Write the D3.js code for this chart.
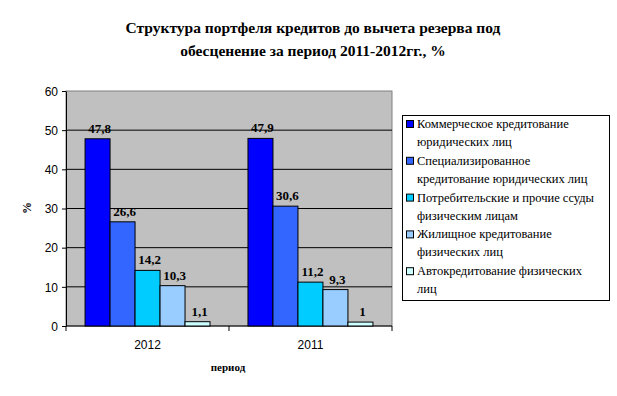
<!DOCTYPE html>
<html>
<head>
<meta charset="utf-8">
<script src="https://cdn.jsdelivr.net/npm/d3@7"></script>
<style>
  body { margin: 0; background: #fff; }
  svg { display: block; }
</style>
</head>
<body>
<svg id="chart" width="617" height="396"></svg>
<script>
// data
const periods = ["2012", "2011"];
const seriesNames = [
  ["Коммерческое кредитование", "юридических лиц"],
  ["Специализированное", "кредитование юридических лиц"],
  ["Потребительские и прочие ссуды", "физическим лицам"],
  ["Жилищное кредитование", "физических лиц"],
  ["Автокредитование физических", "лиц"]
];
const values2012 = [47.8, 26.6, 14.2, 10.3, 1.1];
const values2011 = [47.9, 30.6, 11.2, 9.3, 1];
const yTicks = [0, 10, 20, 30, 40, 50, 60];
const colors = ["#0000ff", "#3366ff", "#00ccff", "#99ccff", "#ccffff"];

const serif = "'Liberation Serif', 'Times New Roman', 'DejaVu Serif', serif";
const sans = "'Liberation Sans', Arial, sans-serif";

const svg = d3.select("#chart");
const m = { left: 66, right: 392, top: 91, bottom: 326 };

const x0 = d3.scaleBand().domain(periods).range([m.left, m.right]).paddingInner(0.233).paddingOuter(0.117);
const x1 = d3.scaleBand().domain(d3.range(5)).range([0, x0.bandwidth()]);
const y = d3.scaleLinear().domain([0, 60]).range([m.bottom, m.top]);

const byPeriod = { "2012": values2012, "2011": values2011 };

// plot area
svg.append("rect")
  .attr("x", m.left).attr("y", m.top)
  .attr("width", m.right - m.left).attr("height", m.bottom - m.top)
  .attr("fill", "#c0c0c0").attr("stroke", "#808080");

// gridlines
svg.append("g").selectAll("line")
  .data(yTicks.filter(d => d > 0 && d < 60))
  .enter().append("line")
    .attr("x1", m.left).attr("x2", m.right)
    .attr("y1", d => y(d)).attr("y2", d => y(d))
    .attr("stroke", "#000");

// y axis
const yAxis = svg.append("g")
  .attr("transform", `translate(${m.left},0)`)
  .call(d3.axisLeft(y).tickValues(yTicks).tickSize(4).tickPadding(4).tickSizeOuter(0));
yAxis.selectAll("text").style("font-family", sans).attr("font-size", 12).attr("fill", "#000").attr("dy", "0.35em");
yAxis.select(".domain").attr("stroke", "#000");

// x axis
const xScaleTicks = d3.scalePoint().domain([0, 1, 2]).range([m.left, m.right]);
svg.append("line").attr("x1", m.left).attr("x2", m.right)
  .attr("y1", m.bottom).attr("y2", m.bottom).attr("stroke", "#000");
svg.append("g").selectAll("line").data([0, 1, 2]).enter().append("line")
  .attr("x1", d => xScaleTicks(d)).attr("x2", d => xScaleTicks(d))
  .attr("y1", m.bottom).attr("y2", m.bottom + 5).attr("stroke", "#000");
svg.append("g").selectAll("text").data(periods).enter().append("text")
  .attr("x", d => x0(d) + x0.bandwidth() / 2)
  .attr("y", m.bottom + 23)
  .attr("text-anchor", "middle")
  .style("font-family", sans).attr("font-size", 12)
  .text(d => d);

// bars
const groups = svg.append("g").selectAll("g")
  .data(periods).enter().append("g")
  .attr("transform", d => `translate(${x0(d)},0)`);

groups.selectAll("rect")
  .data(p => byPeriod[p].map((v, i) => ({ v, i })))
  .enter().append("rect")
    .attr("x", d => x1(d.i))
    .attr("y", d => y(d.v))
    .attr("width", x1.bandwidth())
    .attr("height", d => y(0) - y(d.v))
    .attr("fill", d => colors[d.i])
    .attr("stroke", "#000").attr("stroke-width", 1);

groups.selectAll("text")
  .data(p => byPeriod[p].map((v, i) => ({ v, i })))
  .enter().append("text")
    .attr("x", d => x1(d.i) + x1.bandwidth() / 2 + 2)
    .attr("y", d => y(d.v) - 6)
    .attr("text-anchor", "middle")
    .style("font-family", serif).attr("font-weight", "bold").attr("font-size", 13)
    .text(d => String(d.v).replace(".", ","));

// title
svg.append("text")
  .attr("x", 313).attr("y", 33)
  .attr("text-anchor", "middle")
  .style("font-family", serif).attr("font-weight", "bold").attr("font-size", 15.5)
  .selectAll("tspan")
  .data(["Структура портфеля кредитов до вычета резерва под", "обесценение за период 2011-2012гг., %"])
  .enter().append("tspan")
    .attr("x", 313).attr("dy", (d, i) => i ? 23 : 0)
    .text(d => d);

// axis titles
svg.append("text")
  .attr("transform", "translate(31,208) rotate(-90)")
  .attr("text-anchor", "middle")
  .style("font-family", serif).attr("font-weight", "bold").attr("font-size", 12)
  .text("%");
svg.append("text")
  .attr("x", 228).attr("y", 371)
  .attr("text-anchor", "middle")
  .style("font-family", serif).attr("font-weight", "bold").attr("font-size", 11)
  .text("период");

// legend
svg.append("rect")
  .attr("x", 402.5).attr("y", 115.5).attr("width", 207).attr("height", 185)
  .attr("fill", "#fff").attr("stroke", "#000");

const leg = svg.append("g").selectAll("g")
  .data(seriesNames).enter().append("g")
  .attr("transform", (d, i) => `translate(406,${128 + i * 36.8})`);
leg.append("rect")
  .attr("x", 0.5).attr("y", -7.5).attr("width", 7).attr("height", 7)
  .attr("fill", (d, i) => colors[i]).attr("stroke", "#000");
leg.append("text")
  .style("font-family", serif).attr("font-size", 12.5)
  .selectAll("tspan").data(d => d).enter().append("tspan")
    .attr("x", 11).attr("y", (d, i) => i * 18)
    .text(d => d);
</script>
</body>
</html>
